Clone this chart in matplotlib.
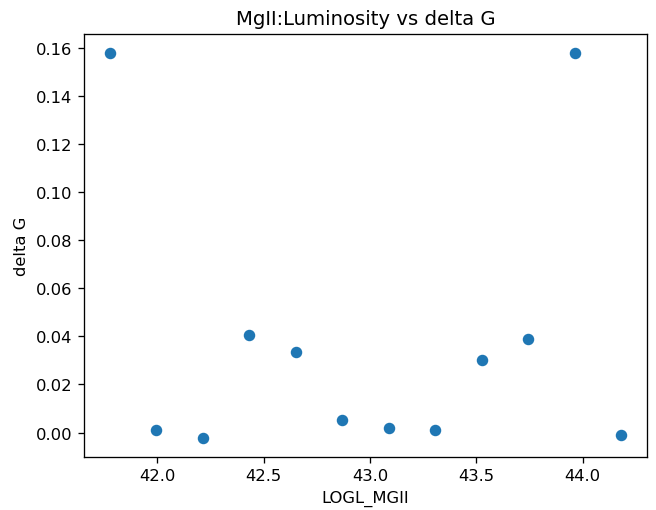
import matplotlib
matplotlib.use("Agg")
import matplotlib.pyplot as plt

logl_mgii = [41.775, 41.994, 42.213, 42.431, 42.650, 42.869, 43.088, 43.307, 43.525, 43.744, 43.963, 44.182]
delta_g = [0.1578, 0.0012, -0.0021, 0.0407, 0.0337, 0.0051, 0.0018, 0.0012, 0.0302, 0.0388, 0.1578, -0.0012]

DPI = 118
fig = plt.figure(figsize=(656 / DPI, 511 / DPI), dpi=DPI)
ax = fig.add_axes([0.128, 0.104, 0.858, 0.828])
ax.scatter(logl_mgii, delta_g)
ax.set_title("MgII:Luminosity vs delta G")
ax.set_xlabel("LOGL_MGII")
ax.set_ylabel("delta G")
fig.savefig("out.png", dpi=DPI)
